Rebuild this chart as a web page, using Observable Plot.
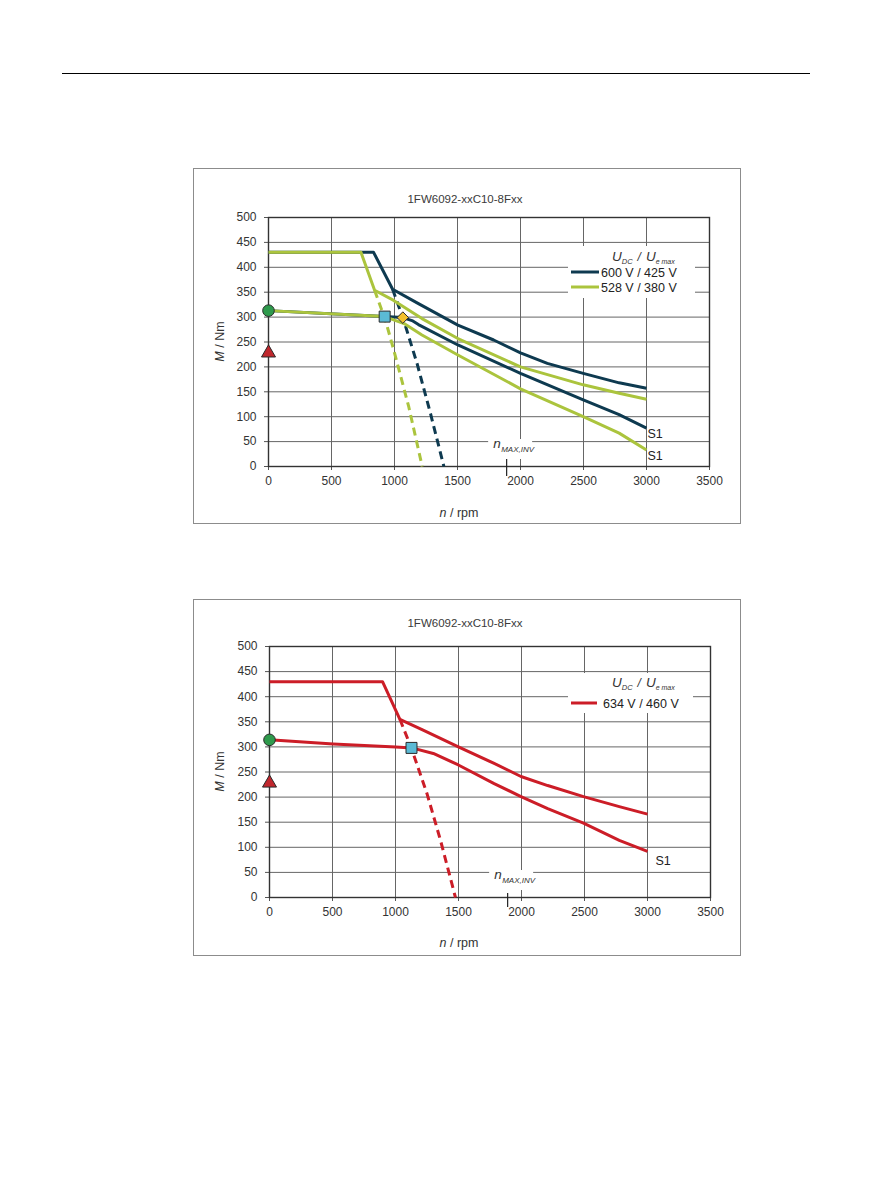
<!DOCTYPE html>
<html><head><meta charset="utf-8">
<script src="https://cdn.jsdelivr.net/npm/d3@7"></script>
<script src="https://cdn.jsdelivr.net/npm/@observablehq/plot@0.6"></script>
<style>
body{margin:0;background:#fff;font-family:"Liberation Sans",Arial,sans-serif;}
#page{position:relative;width:893px;height:1191px;overflow:hidden;}
.rule{position:absolute;left:62px;top:73px;width:748px;height:1px;background:#000;}
.box{position:absolute;left:193px;width:548px;border:1px solid #8c8c8c;box-sizing:border-box;}
.chart{position:absolute;left:193px;}
</style></head>
<body><div id="page">
<div class="rule"></div>
<div class="box" style="top:168px;height:356px"></div>
<div class="box" style="top:599px;height:357px"></div>
<div id="c1" class="chart" style="top:168px"></div>
<div id="c2" class="chart" style="top:599px"></div>
</div>
<script>
// ---------- data ----------
const titleText = "1FW6092-xxC10-8Fxx";
const rpmTicks = [0, 500, 1000, 1500, 2000, 2500, 3000, 3500];
const torqueTicks = [0, 50, 100, 150, 200, 250, 300, 350, 400, 450, 500];
const nMaxInv = 1890;

// Chart 1 – 600 V / 425 V (navy)
const navyUpperRpm = [0, 834, 985, 1190, 1503, 1787, 2000, 2213, 2498, 2783, 3000];
const navyUpperNm  = [430, 430, 356, 327, 284, 254, 228, 207, 187, 168, 157];
const navyLowerRpm = [0, 922, 1066, 1139, 1190, 1503, 2000, 2498, 2783, 3000];
const navyLowerNm  = [313, 301, 299, 293, 285, 244, 187, 134, 104, 77];
const navyDashRpm  = [985, 1074, 1180, 1286, 1392];
const navyDashNm   = [356, 293, 206, 106, 0];
// Chart 1 – 528 V / 380 V (green)
const greenUpperRpm = [0, 734, 842, 990, 1218, 1503, 2000, 2498, 2783, 3000];
const greenUpperNm  = [430, 430, 354, 334, 297, 257, 200, 164, 147, 135];
const greenLowerRpm = [0, 922, 1076, 1218, 1503, 2000, 2498, 2783, 3000];
const greenLowerNm  = [313, 301, 287, 264, 224, 156, 100, 67, 33];
const greenDashRpm  = [842, 929, 995, 1114, 1220];
const greenDashNm   = [354, 293, 233, 119, 0];
// Chart 2 – 634 V / 460 V (red)
const redUpperRpm = [0, 897, 1035, 1215, 1499, 1783, 1996, 2208, 2492, 2776, 3000];
const redUpperNm  = [430, 430, 355, 334, 300, 267, 241, 223, 201, 181, 166];
const redLowerRpm = [0, 505, 1002, 1130, 1300, 1499, 1783, 1996, 2208, 2492, 2776, 3000];
const redLowerNm  = [314, 306, 300, 298, 287, 264, 227, 201, 177, 148, 114, 92];
const redDashRpm  = [1035, 1127, 1251, 1357, 1476];
const redDashNm   = [355, 297, 206, 114, 0];

// markers
const markerSymbols = ["circle", "triangle", "square", "diamond2"];
const markerFills   = ["#2e9a4c", "#c0272d", "#5bbad5", "#f2c12e"];
const markerRadii   = [5.8, 5.2, 6.2, 5.2];
const chart1MarkerRpm = [0, 0, 922, 1066];
const chart1MarkerNm  = [313, 228, 301, 299];
const chart2MarkerRpm = [0, 0, 1127];
const chart2MarkerNm  = [314, 228, 298];

// legends
const legend1Labels = ["600 V / 425 V", "528 V / 380 V"];
const legend2Labels = ["634 V / 460 V"];
const s1Label = "S1";

// ---------- styles ----------
const NAVY = "#0e3a50", GREEN = "#abc43d", RED = "#cc1d27";
const FONT = "Liberation Sans, Arial, sans-serif";

const zipS = (r, n) => r.map((x, i) => ({rpm: x, nm: n[i]}));

function makeChart(cfg) {
  const lineMarks = [];
  for (const s of cfg.series) {
    lineMarks.push(Plot.line(zipS(s.rpm, s.nm), {x: "rpm", y: "nm", stroke: s.color, strokeWidth: 3,
      strokeDasharray: s.dash ? "8,5" : null, strokeLinejoin: "round", strokeLinecap: "butt"}));
  }
  const markerMarks = cfg.mRpm.map((r, i) =>
    Plot.dot([{rpm: r, nm: cfg.mNm[i]}], {x: "rpm", y: "nm", symbol: markerSymbols[i], fill: markerFills[i],
      stroke: "#2a2a2a", strokeWidth: 1, r: markerRadii[i]}));
  const plot = Plot.plot({
    width: 548, height: cfg.height,
    marginLeft: cfg.ml, marginRight: cfg.mr, marginTop: cfg.mt, marginBottom: cfg.mb,
    style: {fontFamily: FONT, fontSize: "12px", color: "#333", background: "transparent", overflow: "visible"},
    x: {domain: [0, 3500]},
    y: {domain: [0, 500]},
    marks: [
      Plot.gridX(rpmTicks, {stroke: "#666", strokeOpacity: 1, strokeWidth: 1}),
      Plot.gridY(torqueTicks, {stroke: "#666", strokeOpacity: 1, strokeWidth: 1}),
      Plot.axisX(rpmTicks, {tickSize: 4, tickPadding: 6, label: null, stroke: "#555", tickFormat: d => String(d)}),
      Plot.axisY(torqueTicks, {tickSize: 4, tickPadding: 8, label: null, stroke: "#555", tickFormat: d => String(d)}),
      Plot.frame({stroke: "#333", strokeWidth: 1.4}),
      Plot.ruleX([nMaxInv], {y1: -20, y2: cfg.tickTop, stroke: "#222", strokeWidth: 1.2}),
      ...lineMarks,
      ...markerMarks,
      Plot.text(cfg.s1, {x: "rpm", y: "nm", text: () => s1Label, textAnchor: "start", dx: cfg.s1dx, dy: cfg.s1dy,
        fill: "#222", fontSize: 12.5})
    ]
  });
  const svg = d3.select(plot);
  const xs = plot.scale("x"), ys = plot.scale("y");
  const g = svg.append("g").attr("font-family", FONT).attr("text-anchor", "start");

  // title
  g.append("text").attr("x", 272).attr("y", cfg.titleY).attr("text-anchor", "middle")
    .attr("font-size", 11.5).attr("fill", "#3a3a3a").text(titleText);
  // x label
  const xl = g.append("text").attr("x", 266).attr("y", cfg.xlabY).attr("text-anchor", "middle")
    .attr("font-size", 12.5).attr("fill", "#333");
  xl.append("tspan").attr("font-style", "italic").text("n");
  xl.append("tspan").text(" / rpm");
  // y label
  const yl = g.append("text").attr("transform", `translate(31,${(ys.apply(0) + ys.apply(500)) / 2}) rotate(-90)`)
    .attr("text-anchor", "middle").attr("font-size", 12.5).attr("fill", "#333");
  yl.append("tspan").attr("font-style", "italic").text("M");
  yl.append("tspan").text(" / Nm");

  // n MAX,INV label
  const xn = xs.apply(nMaxInv), y0 = ys.apply(0);
  g.append("rect").attr("x", xn - 18).attr("y", y0 - 27).attr("width", 44).attr("height", 20).attr("fill", "#fff");
  const nt = g.append("text").attr("x", xn - 13).attr("y", y0 - 18).attr("font-size", 13.5)
    .attr("font-style", "italic").attr("fill", "#333");
  nt.append("tspan").text("n");
  nt.append("tspan").attr("font-size", 8).attr("dy", 4).attr("dx", 0.5).text("MAX,INV");

  // legend
  const L = cfg.legend;
  g.append("rect").attr("x", L.x).attr("y", L.y).attr("width", L.w).attr("height", L.h).attr("fill", "#fff");
  const hd = g.append("text").attr("x", 419).attr("y", L.headY).attr("font-size", 13.5)
    .attr("font-style", "italic").attr("fill", "#333");
  hd.append("tspan").text("U");
  hd.append("tspan").attr("font-size", 7.5).attr("dy", 3).text("DC");
  hd.append("tspan").attr("dy", -3).attr("dx", 5).attr("font-size", 12).text("/");
  hd.append("tspan").attr("dx", 5).text("U");
  hd.append("tspan").attr("font-size", 7).attr("dy", 3).text("e max");
  L.entries.forEach((e, i) => {
    const yy = L.entryY + i * 15;
    g.append("line").attr("x1", 378).attr("x2", L.lineEnd).attr("y1", yy).attr("y2", yy)
      .attr("stroke", e.color).attr("stroke-width", 3);
    g.append("text").attr("x", L.lineEnd + L.gap).attr("y", yy + 4.5).attr("font-size", 12.5)
      .attr("fill", "#222").text(e.label);
  });

  document.getElementById(cfg.el).appendChild(plot);
}

makeChart({
  el: "c1", height: 355, ml: 75, mr: 32, mt: 49, mb: 57, tickTop: 14,
  titleY: 35, xlabY: 349,
  series: [
    {rpm: navyUpperRpm, nm: navyUpperNm, color: NAVY},
    {rpm: navyLowerRpm, nm: navyLowerNm, color: NAVY},
    {rpm: navyDashRpm, nm: navyDashNm, color: NAVY, dash: true},
    {rpm: greenUpperRpm, nm: greenUpperNm, color: GREEN},
    {rpm: greenLowerRpm, nm: greenLowerNm, color: GREEN},
    {rpm: greenDashRpm, nm: greenDashNm, color: GREEN, dash: true}
  ],
  mRpm: chart1MarkerRpm, mNm: chart1MarkerNm,
  s1: [{rpm: navyLowerRpm.at(-1), nm: navyLowerNm.at(-1)}, {rpm: greenLowerRpm.at(-1), nm: greenLowerNm.at(-1)}],
  s1dx: 1, s1dy: 6,
  legend: {x: 375, y: 78, w: 127, h: 52, headY: 93, entryY: 104, lineEnd: 406, gap: 2,
    entries: [{label: legend1Labels[0], color: NAVY}, {label: legend1Labels[1], color: GREEN}]}
});

makeChart({
  el: "c2", height: 356, ml: 76, mr: 31, mt: 47, mb: 58, tickTop: 8,
  titleY: 28, xlabY: 348,
  series: [
    {rpm: redUpperRpm, nm: redUpperNm, color: RED},
    {rpm: redLowerRpm, nm: redLowerNm, color: RED},
    {rpm: redDashRpm, nm: redDashNm, color: RED, dash: true}
  ],
  mRpm: chart2MarkerRpm, mNm: chart2MarkerNm,
  s1: [{rpm: redLowerRpm.at(-1), nm: redLowerNm.at(-1)}],
  s1dx: 8, s1dy: 10,
  legend: {x: 375, y: 74, w: 125, h: 40, headY: 88, entryY: 104, lineEnd: 404, gap: 6,
    entries: [{label: legend2Labels[0], color: RED}]}
});
</script>
</body></html>
